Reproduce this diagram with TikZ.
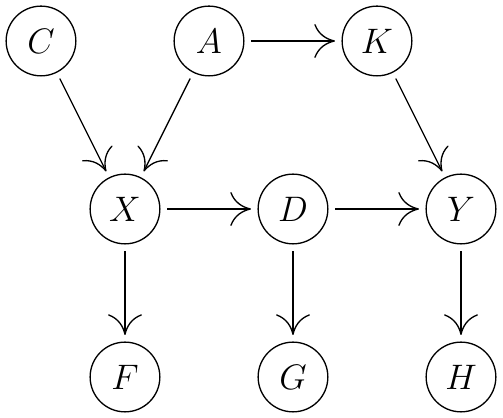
\documentclass[tikz,border=0pt]{standalone}
\usetikzlibrary{arrows.meta}
\begin{document}
\begin{tikzpicture}[
  var/.style={circle, draw, line width=0.45pt, minimum size=0.83cm, inner sep=0pt, font=\fontsize{13.2}{15}\selectfont},
  edge/.style={line width=0.45pt, -{To[length=7pt,width=11.5pt]}, shorten >=2.2pt, shorten <=2.2pt}
]
\useasboundingbox (-0.488,-4.488) rectangle (5.5,0.488);
\node[var] (C) at (0,0) {$C$};
\node[var] (A) at (2,0) {$A$};
\node[var] (K) at (4,0) {$K$};
\node[var] (X) at (1,-2) {$X$};
\node[var] (D) at (3,-2) {$D$};
\node[var] (Y) at (5,-2) {$Y$};
\node[var] (F) at (1,-4) {$F$};
\node[var] (G) at (3,-4) {$G$};
\node[var] (H) at (5,-4) {$H$};
\draw[edge] (C) -- (X);
\draw[edge] (A) -- (X);
\draw[edge] (A) -- (K);
\draw[edge] (K) -- (Y);
\draw[edge] (X) -- (D);
\draw[edge] (D) -- (Y);
\draw[edge] (X) -- (F);
\draw[edge] (D) -- (G);
\draw[edge] (Y) -- (H);
\end{tikzpicture}
\end{document}
